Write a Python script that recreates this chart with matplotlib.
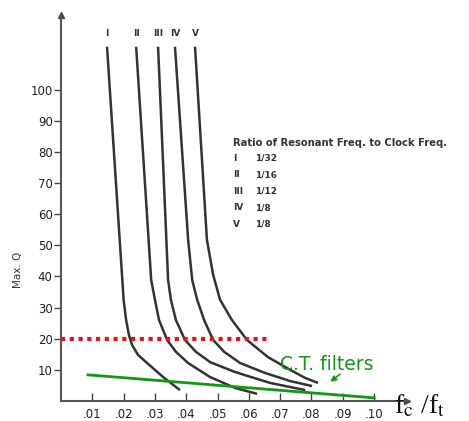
import matplotlib
matplotlib.use("Agg")
import matplotlib.pyplot as plt

plt.rcParams['mathtext.fontset'] = 'stix'

# curves: (fc/ft, max Q)
curve_names = ['I', 'II', 'III', 'IV', 'V']
curve_x = [
    [0.0147, 0.0200, 0.0208, 0.0217, 0.0227, 0.0246, 0.0275, 0.0326, 0.0380],
    [0.0240, 0.0288, 0.0300, 0.0313, 0.0339, 0.0367, 0.0406, 0.0476, 0.0556, 0.0626],
    [0.0310, 0.0342, 0.0351, 0.0367, 0.0396, 0.0431, 0.0476, 0.0556, 0.0668, 0.0780],
    [0.0364, 0.0406, 0.0419, 0.0435, 0.0457, 0.0486, 0.0521, 0.0572, 0.0652,
     0.0732, 0.0802],
    [0.0428, 0.0466, 0.0486, 0.0508, 0.0546, 0.0594, 0.0661, 0.0732, 0.0780, 0.0821],
]
curve_q = [
    [113.8, 32.5, 26.0, 21.2, 18.0, 14.8, 12.2, 7.7, 3.5],
    [113.8, 38.9, 32.5, 26.0, 19.6, 15.8, 12.2, 7.7, 4.2, 2.3],
    [113.8, 38.9, 32.5, 26.0, 19.6, 15.8, 12.5, 9.3, 5.8, 3.5],
    [113.8, 51.8, 38.9, 32.5, 26.0, 19.6, 15.8, 12.2, 9.0, 6.4, 4.8],
    [113.8, 51.8, 40.5, 32.5, 26.0, 19.6, 14.1, 10.0, 7.4, 5.8],
]
ratios = ['1/32', '1/16', '1/12', '1/8', '1/8']

q_limit_x = [0.0, 0.0668]
q_limit_y = [20, 20]
ct_x = [0.0086, 0.100]
ct_y = [8.4, 1.0]

xticks = [0.01, 0.02, 0.03, 0.04, 0.05, 0.06, 0.07, 0.08, 0.09, 0.10]
xticklabels = ['.01', '.02', '.03', '.04', '.05', '.06', '.07', '.08', '.09', '.10']
yticks = [10, 20, 30, 40, 50, 60, 70, 80, 90, 100]

W, H = 469, 421
fig = plt.figure(figsize=(W / 100, H / 100), dpi=100)
ax = fig.add_axes([61 / W, (H - 401) / H, (407 - 61) / W, (401 - 15) / H])
ax.set_xlim(0, 0.1105)
ax.set_ylim(0, 124)

ink = '#333333'
for x, q in zip(curve_x, curve_q):
    ax.plot(x, q, color=ink, lw=1.8, solid_joinstyle='round',
            solid_capstyle='butt')
for name, x in zip(curve_names, curve_x):
    ax.text(x[0], 118, name, ha='center', va='center', fontsize=6.5,
            fontweight='bold', color=ink)

ax.plot(q_limit_x, q_limit_y, color='#ee1111', lw=3, ls=(0, (1, 1.1)))
ax.plot(ct_x, ct_y, color='#119911', lw=2)
ax.text(0.070, 11.6, 'C.T. filters', color='#119911', fontsize=13.5,
        ha='left', va='center')
ax.annotate('', xy=(0.0853, 5.6), xytext=(0.0898, 9.2),
            arrowprops=dict(arrowstyle='-|>', color='#119911', lw=1.2,
                            mutation_scale=8))

# legend block
ax.text(0.0550, 83, 'Ratio of Resonant Freq. to Clock Freq.', fontsize=7.2,
        fontweight='bold', color=ink, va='center')
for i, (name, r) in enumerate(zip(curve_names, ratios)):
    yy = 78.0 - i * 5.3
    ax.text(0.0550, yy, name, fontsize=6.5, fontweight='bold', color=ink, va='center')
    ax.text(0.0620, yy, r, fontsize=6.5, fontweight='bold', color=ink, va='center')

for s in ['top', 'right']:
    ax.spines[s].set_visible(False)
for s in ['left', 'bottom']:
    ax.spines[s].set_color('#555555')
    ax.spines[s].set_linewidth(1.5)
ax.plot(0, 1, '^', color='#444444', ms=5, transform=ax.transAxes, clip_on=False)
ax.plot(1, 0, '>', color='#444444', ms=5, transform=ax.transAxes, clip_on=False)

ax.set_xticks(xticks)
ax.set_xticklabels(xticklabels)
ax.set_yticks(yticks)
ax.tick_params(axis='x', direction='in', length=6, width=1, colors='#444444',
               labelsize=8.5, labelcolor='#222222', pad=5)
ax.tick_params(axis='y', direction='out', length=5, width=1, colors='#444444',
               labelsize=8.5, labelcolor='#222222', pad=1)

fig.text(18 / W, 1 - 270 / H, 'Max. Q', rotation=90, fontsize=7.5, color=ink,
         ha='center', va='center')
fig.text(394 / W, 1 - 406 / H, r'f$_\mathrm{c}$ /f$_\mathrm{t}$', fontsize=20,
         family='Liberation Serif', ha='left', va='center', color='#111111')

fig.savefig('out.png', dpi=100)
